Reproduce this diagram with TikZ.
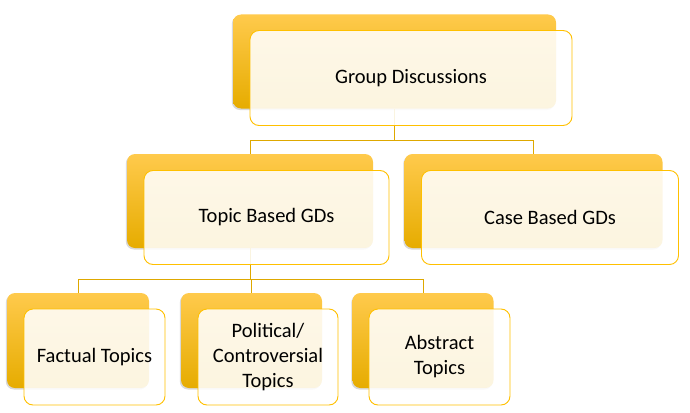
\documentclass[tikz,border=0pt]{standalone}
\usepackage{fontspec}
\setmainfont{Carlito}
\usetikzlibrary{shadows}
\definecolor{gdtop}{HTML}{FFCA4C}
\definecolor{gdmid}{HTML}{FFC000}
\definecolor{gdbot}{HTML}{E6AC00}
\definecolor{gdrim}{HTML}{FFC000}
\definecolor{gdline}{HTML}{DEA800}
\tikzset{
  backbox/.style={rounded corners=8pt, inner sep=0pt,
    top color=gdtop, middle color=gdmid, bottom color=gdbot,
    drop shadow={shadow xshift=-1.2pt, shadow yshift=-1.5pt, opacity=0.3}},
  frontbox/.style={rounded corners=9pt, inner sep=0pt, draw=gdrim, line width=0.9pt,
    fill=white, fill opacity=0.88, text opacity=1, text=black, align=center,
    font=\fontsize{20.5}{25}\selectfont, xshift=16.5pt, yshift=-16.5pt},
  link/.style={draw=gdline, line width=0.9pt}
}
\begin{document}
\begin{tikzpicture}[x=1pt,y=-1pt]
\useasboundingbox (0,0) rectangle (690,412);
% back boxes
\node[backbox, minimum width=323pt, minimum height=94pt] (gdb) at (394.5,61.5) {};
\node[backbox, minimum width=246pt, minimum height=94pt] (topicb) at (250,201) {};
\node[backbox, minimum width=258pt, minimum height=94pt] (caseb) at (533.5,201) {};
\node[backbox, minimum width=142pt, minimum height=95pt] (factb) at (78,340.5) {};
\node[backbox, minimum width=141pt, minimum height=95pt] (polb) at (251.5,340.5) {};
\node[backbox, minimum width=141pt, minimum height=95pt] (absb) at (423,340.5) {};
% connectors
\coordinate (j1) at (394.5,140);
\coordinate (j2) at (250,279);
\draw[link] (gdb.south) -- (j1) -| (topicb.north);
\draw[link] (j1) -| (caseb.north);
\draw[link] (topicb.south) -- (j2) -| (factb.north);
\draw[link] (j2) -| (polb.north);
\draw[link] (j2) -| (absb.north);
% front boxes
\node[frontbox, minimum width=322pt, minimum height=95pt] (gd) at (gdb) {Group Discussions};
\node[frontbox, minimum width=245pt, minimum height=94pt] (topic) at (topicb) {Topic Based GDs};
\node[frontbox, minimum width=257pt, minimum height=94pt] (case) at (caseb) {Case Based GDs};
\node[frontbox, minimum width=141pt, minimum height=96pt] (fact) at (factb) {Factual Topics};
\node[frontbox, minimum width=140pt, minimum height=96pt] (pol) at (polb) {Political/\\Controversial\\Topics};
\node[frontbox, minimum width=141pt, minimum height=96pt] (abs) at (absb) {Abstract\\Topics};
\end{tikzpicture}
\end{document}
